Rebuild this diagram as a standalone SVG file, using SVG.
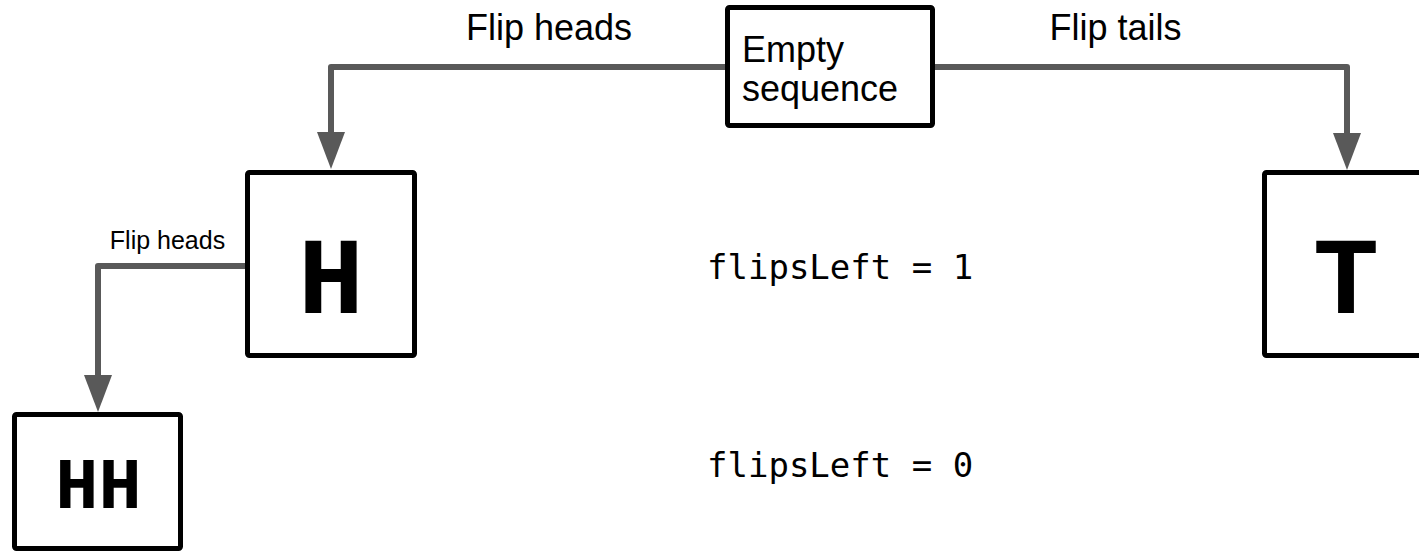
<svg xmlns="http://www.w3.org/2000/svg" width="1419" height="551" viewBox="0 0 1419 551">
  <style>
    .box { fill: #ffffff; stroke: #000000; stroke-width: 5; stroke-linejoin: round; }
    .conn { fill: none; stroke: #595959; stroke-width: 6; stroke-linejoin: round; }
    .lbl { font-family: "Liberation Sans", Arial, sans-serif; fill: #000000; }
    .big { font-family: "Courier New", "Liberation Mono", monospace; font-weight: bold; fill: #000000; text-anchor: middle; }
    .code { font-family: "DejaVu Sans Mono", "Liberation Mono", monospace; font-size: 34px; fill: #000000; }
  </style>
  <defs>
    <marker id="arrow" viewBox="0 0 37 28" refX="1" refY="14" markerWidth="37" markerHeight="28" markerUnits="userSpaceOnUse" orient="auto">
      <path d="M0,0 L37,14 L0,28 Z" fill="#595959"/>
    </marker>
  </defs>
  <rect width="1419" height="551" fill="#ffffff"/>
  <g id="connectors">
    <path class="conn" d="M725,67 H331 V133" marker-end="url(#arrow)"/>
    <path class="conn" d="M935,67 H1347 V134" marker-end="url(#arrow)"/>
    <path class="conn" d="M245,266 H98 V376" marker-end="url(#arrow)"/>
    <text class="lbl" x="549" y="40" font-size="36" text-anchor="middle">Flip heads</text>
    <text class="lbl" x="1115.5" y="40" font-size="36" text-anchor="middle">Flip tails</text>
    <text class="lbl" x="167.5" y="249" font-size="25" text-anchor="middle">Flip heads</text>
  </g>
  <g id="node-empty">
    <rect class="box" x="727.5" y="7.5" width="205" height="118" rx="2"/>
    <text class="lbl" x="742" y="62" font-size="36">Empty</text>
    <text class="lbl" x="742" y="101" font-size="36">sequence</text>
  </g>
  <g id="node-H">
    <rect class="box" x="247.5" y="172.5" width="167" height="183" rx="2"/>
    <text class="big" x="331" y="313" font-size="110">H</text>
  </g>
  <g id="node-T">
    <rect class="box" x="1264.5" y="172.5" width="167" height="183" rx="2"/>
    <text class="big" x="1346" y="313" font-size="110">T</text>
  </g>
  <g id="node-HH">
    <rect class="box" x="14.5" y="414.5" width="166" height="134" rx="2"/>
    <text class="big" x="98.5" y="508" font-size="72">HH</text>
  </g>
  <g id="annotations">
    <text class="code" x="707" y="279">flipsLeft = 1</text>
    <text class="code" x="707" y="477">flipsLeft = 0</text>
  </g>
</svg>
